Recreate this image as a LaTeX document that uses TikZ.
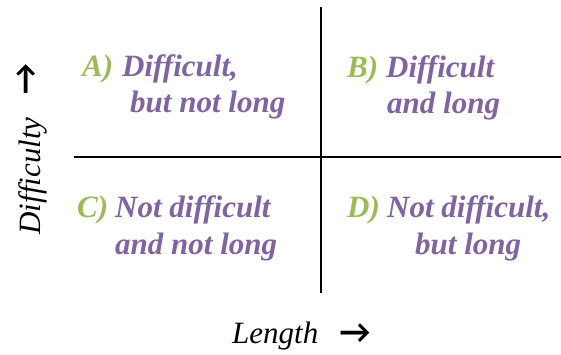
\documentclass[tikz,border=0pt]{standalone}
\usepackage{fontspec}
\setmainfont{Liberation Serif}
\newfontfamily\arrowfont{Carlito}
\definecolor{lblgreen}{RGB}{155,187,89}
\definecolor{lblpurple}{RGB}{128,100,162}
\begin{document}
\begin{tikzpicture}[x=1pt,y=-1pt,
  axis/.style={line width=2.4pt,black},
  letter/.style={anchor=base west,inner sep=0pt,text=lblgreen,font=\fontsize{31}{36}\selectfont\bfseries\itshape},
  txt/.style={anchor=base west,inner sep=0pt,text=lblpurple,font=\fontsize{31}{36}\selectfont\bfseries\itshape},
  axlbl/.style={inner sep=0pt,font=\fontsize{31}{36}\selectfont\itshape},
  arr/.style={inner sep=0pt,font=\arrowfont\bfseries\fontsize{34}{38}\selectfont}]
\useasboundingbox (0,0) rectangle (561,355);
\coordinate (vtop) at (321,7);
\coordinate (vbot) at (321,293);
\coordinate (hl) at (74,157);
\coordinate (hr) at (561,157);
\draw[axis] (vtop) -- (vbot);
\draw[axis] (hl) -- (hr);
% A
\node[letter] (la) at (82,77) {A)};
\node[txt] (a1) at (122,77) {Difficult,};
\node[txt] (a2) at (130,113) {but not long};
% B
\node[letter] (lb) at (347,78) {B)};
\node[txt] (b1) at (386,78) {Difficult};
\node[txt] (b2) at (387,114) {and long};
% C
\node[letter] (lc) at (77,217) {C)};
\node[txt] (c1) at (115,217) {Not difficult};
\node[txt] (c2) at (115,254) {and not long};
% D
\node[letter] (ld) at (347,217) {D)};
\node[txt] (d1) at (387,217) {Not difficult,};
\node[txt] (d2) at (415,254) {but long};
% axis labels
\node[axlbl,anchor=base west] (len) at (232,343) {Length};
\node[arr] (lenarr) at (355,334) {→};
\node[axlbl,rotate=90,anchor=base] (dif) at (40,176) {Difficulty};
\node[arr,rotate=90] (difarr) at (27,79) {→};
\end{tikzpicture}
\end{document}
